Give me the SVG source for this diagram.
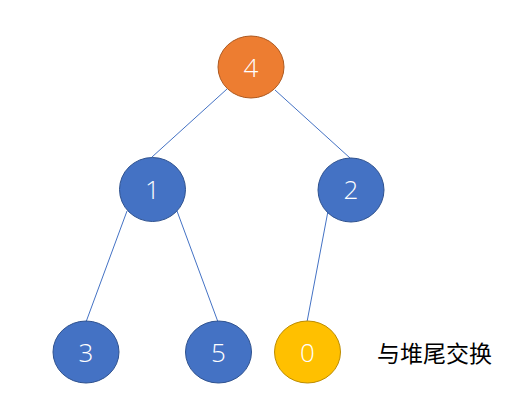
<svg xmlns="http://www.w3.org/2000/svg" width="530" height="420" viewBox="0 0 530 420">
<style>
.n ellipse{stroke-width:1}
.blue{fill:#4472C4;stroke:#2F528F}
.orange{fill:#ED7D31;stroke:#AE5A21}
.yellow{fill:#FFC000;stroke:#BC8C00}
.n text{fill:#fff;font-family:"Open Sans","Liberation Sans",sans-serif;font-weight:300;font-size:26px;text-anchor:middle}
.e line{stroke:#4472C4;stroke-width:1}
.lbl{font-family:"Noto Sans CJK SC",sans-serif;font-size:23px;fill:#000}
</style>
<rect width="530" height="420" fill="#fff"/>
<g id="edges" class="e">
<line x1="227" y1="89" x2="152" y2="157"/>
<line x1="275" y1="90" x2="350" y2="158"/>
<line x1="127" y1="211" x2="86" y2="322"/>
<line x1="177" y1="211" x2="218" y2="322"/>
<line x1="328" y1="211" x2="307" y2="322"/>
</g>
<g id="n4" class="n"><ellipse class="orange" cx="251" cy="67" rx="33" ry="31"/><text x="251" y="76.5">4</text></g>
<g id="n1" class="n"><ellipse class="blue" cx="152.5" cy="189.5" rx="33" ry="32"/><text x="152.5" y="199">1</text></g>
<g id="n2" class="n"><ellipse class="blue" cx="351" cy="190" rx="33" ry="32"/><text x="351" y="199">2</text></g>
<g id="n3" class="n"><ellipse class="blue" cx="86" cy="352" rx="33" ry="31"/><text x="86" y="361.5">3</text></g>
<g id="n5" class="n"><ellipse class="blue" cx="218.5" cy="352" rx="33" ry="31"/><text x="218.5" y="361.5">5</text></g>
<g id="n0" class="n"><ellipse class="yellow" cx="307.5" cy="352" rx="33" ry="31"/><text x="307.5" y="361.5">0</text></g>
<text class="lbl" x="377" y="362">与堆尾交换</text>
</svg>
